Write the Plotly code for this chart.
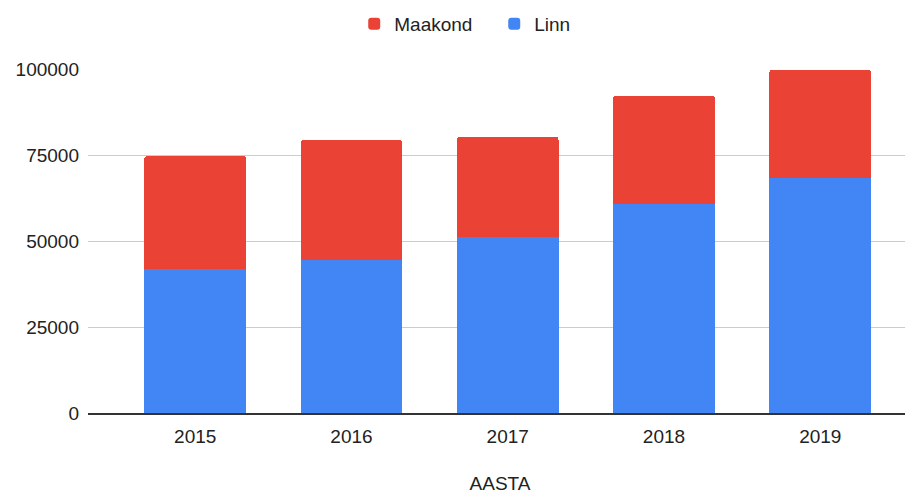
import plotly.graph_objects as go

years = ["2015", "2016", "2017", "2018", "2019"]
linn = [41800, 44600, 51100, 60700, 68250]
maakond_total = [74700, 79400, 80300, 92250, 99800]
maakond = [t - l for t, l in zip(maakond_total, linn)]
y_ticks = [0, 25000, 50000, 75000, 100000]

FONT = "Arial, Liberation Sans, sans-serif"
fig = go.Figure()
fig.add_trace(go.Bar(x=years, y=linn, name="Linn", marker_color="#4285F4",
                     marker_line_width=0))
fig.add_trace(go.Bar(x=years, y=maakond, name="Maakond", marker_color="#EA4335",
                     marker_line_width=0))

fig.update_layout(
    barmode="stack",
    bargap=0.35,
    barcornerradius=3,
    width=905, height=486,
    margin=dict(l=80, r=1, t=61, b=81, autoexpand=False),
    plot_bgcolor="white", paper_bgcolor="white",
    font=dict(family=FONT, size=19, color="#222222"),
    legend=dict(orientation="h", traceorder="reversed",
                x=0.493, xanchor="center", y=1.131, yanchor="middle",
                font=dict(size=19, color="#222222"),
                itemwidth=30, entrywidth=95),
    showlegend=True,
)
fig.update_xaxes(
    type="category",
    range=[-0.686, 4.587],
    showgrid=False,
    showline=True, linecolor="#333333", linewidth=1.5,
    ticks="", ticklabelstandoff=5, automargin=False,
    title=dict(text="AASTA", standoff=37, font=dict(size=19, color="#222222")),
)
fig.update_yaxes(
    range=[0, 100000],
    tickvals=y_ticks,
    ticktext=[str(v) for v in y_ticks],
    showgrid=True, gridcolor="#cccccc", gridwidth=1,
    zeroline=False,
    showline=False, automargin=False,
    ticks="", ticklabelstandoff=8,
)

fig.write_html("out.html")
